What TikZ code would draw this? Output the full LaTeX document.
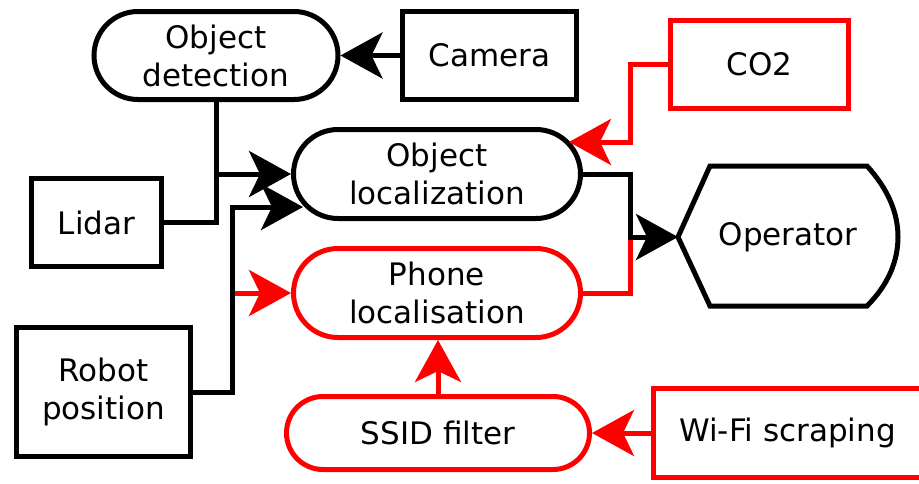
\documentclass[tikz,border=0pt]{standalone}
\usepackage{fontspec}
\setmainfont{DejaVu Sans}
\usetikzlibrary{arrows.meta,shapes.misc}
\definecolor{sigred}{RGB}{255,0,0}
\tikzset{
  box/.style={draw, line width=5pt, fill=white, align=center, inner sep=0pt,
    font=\fontsize{31}{38}\selectfont},
  rectbox/.style={box, rectangle},
  pill/.style={box, rounded rectangle, rounded rectangle arc length=180},
  conn/.style={line width=5pt},
  tip/.style={-{Stealth[length=42pt,width=46pt,inset=11pt]}},
}
\begin{document}
\begin{tikzpicture}[x=1pt,y=-1pt]
\useasboundingbox (0,0) rectangle (919,483);

% sensors and processing blocks
\node[pill, minimum width=244pt, minimum height=88pt] (od) at (216,55.5) {Object\\detection};
\node[rectbox, minimum width=174pt, minimum height=88pt] (cam) at (489.5,55.5) {Camera};
\node[rectbox, draw=sigred, minimum width=178pt, minimum height=88pt] (co2) at (759.5,64.5) {CO2};
\node[pill, minimum width=287pt, minimum height=89pt] (ol) at (437,174) {Object\\localization};
\node[rectbox, minimum width=130pt, minimum height=88pt] (lidar) at (96.5,222.5) {Lidar};
\node[pill, draw=sigred, minimum width=287pt, minimum height=89pt] (pl) at (437,293) {Phone\\localisation};
\node[rectbox, minimum width=174pt, minimum height=129pt] (rp) at (103.5,392) {Robot\\position};
\node[pill, draw=sigred, minimum width=303pt, minimum height=73pt] (ssid) at (438,433) {SSID filter};
\node[rectbox, draw=sigred, minimum width=269pt, minimum height=89pt] (wifi) at (787.5,433) {Wi-Fi scraping};

% operator display
\coordinate (opin) at (678,237);
\draw[line width=5pt, line join=miter]
  (opin) -- (710,166) -- (867,166)
  .. controls (889,190) and (898,214) .. (898,237)
  .. controls (898,260) and (889,284) .. (867,306)
  -- (710,306) -- cycle;
\node[font=\fontsize{31}{38}\selectfont, inner sep=0pt] (op) at (788,237) {Operator};

% arrow ends on the rounded borders
\coordinate (olco) at (569,142);
\coordinate (olrp) at (303,207);

% red signal paths
\draw[conn, draw=sigred, tip] (co2.west) -- (630,64.5) -- (630,142) -- (olco);
\draw[conn, draw=sigred] (pl.east) -- (630,293) -- (630,237);
\draw[conn, draw=sigred, tip] (rp.east) -- (232,392) -- (232,293) -- (pl.west);
\draw[conn, draw=sigred, tip] (ssid.north) -- (ssid.north |- pl.south);
\draw[conn, draw=sigred, tip] (wifi.west) -- (ssid.east);

% black signal paths
\draw[conn, tip] (cam.west) -- (od.east);
\draw[conn, tip] (od.south) -- (od.south |- ol.west) -- (ol.west);
\draw[conn] (lidar.east) -- (od.south |- lidar.east) -- (od.south |- ol.west);
\draw[conn, tip] (rp.east) -- (232,392) -- (232,207) -- (olrp);
\draw[conn, tip] (ol.east) -- (630,174) -- (630,237) -- (opin);
\end{tikzpicture}
\end{document}
